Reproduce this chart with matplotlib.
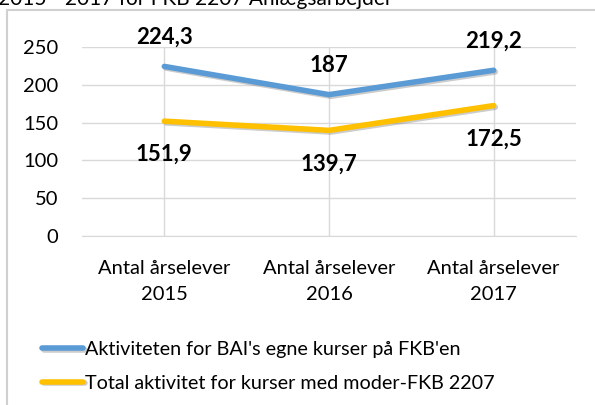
import matplotlib.pyplot as plt
import matplotlib.patheffects as pe
from matplotlib.patches import Rectangle

plt.rcParams['font.family'] = ['Lato', 'DejaVu Sans']

categories = ["Antal årselever\n2015", "Antal årselever\n2016", "Antal årselever\n2017"]
bai_values = [224.3, 187, 219.2]
total_values = [151.9, 139.7, 172.5]
bai_labels = ["224,3", "187", "219,2"]
total_labels = ["151,9", "139,7", "172,5"]
series_names = ["Aktiviteten for BAI's egne kurser på FKB'en",
                "Total aktivitet for kurser med moder-FKB 2207"]
title = "2015 - 2017 for FKB 2207 Anlægsarbejder"

W, H = 595, 405
fig = plt.figure(figsize=(W / 100, H / 100), dpi=100)
fig.patch.set_facecolor("white")

# outer chart border (cut by the figure edge like the screenshot)
fig.add_artist(Rectangle((7 / W, -0.1), 1.1, (H - 10) / H + 0.1, transform=fig.transFigure,
                         fill=False, ec="#d0d0d0", lw=1.5))
fig.text(-2 / W, 1 + 1 / H, title, fontsize=15, va="center", ha="left", color="black")

ax = fig.add_axes([82 / W, 1 - 236 / H, (576 - 82) / W, (236 - 47) / H])
x = range(len(categories))
shadow = [pe.SimpleLineShadow(offset=(1.2, -1.2), shadow_color="0.5", alpha=0.4), pe.Normal()]
ax.plot(x, bai_values, color="#5B9BD5", lw=4, solid_capstyle="round", path_effects=shadow, zorder=3,
        label=series_names[0])
ax.plot(x, total_values, color="#FFC000", lw=4, solid_capstyle="round", path_effects=shadow, zorder=3,
        label=series_names[1])

for i in x:
    ax.annotate(bai_labels[i], (i, bai_values[i]), xytext=(0, 21), textcoords="offset points",
                ha="center", va="center", fontsize=16, fontweight="bold")
    ax.annotate(total_labels[i], (i, total_values[i]), xytext=(0, -24), textcoords="offset points",
                ha="center", va="center", fontsize=16, fontweight="bold")

ax.set_xlim(-0.5, 2.5)
ax.set_ylim(0, 250)
ax.set_yticks([0, 50, 100, 150, 200, 250])
ax.set_xticks(list(x))
ax.set_xticklabels(categories, fontsize=14.5, linespacing=1.7)
ax.tick_params(axis="y", labelsize=14.5, length=0, pad=17)
ax.tick_params(axis="x", length=0, pad=17)
ax.grid(True, color="#d9d9d9", lw=1)
ax.set_axisbelow(True)
for s in ["top", "right", "left"]:
    ax.spines[s].set_visible(False)
ax.spines["bottom"].set_color("#d9d9d9")

fig.legend(loc="upper left", bbox_to_anchor=(34 / W, 1 - 333 / H), frameon=False, fontsize=14.2,
           handlelength=2.1, handletextpad=0.1, labelspacing=0.85, borderaxespad=0)

fig.savefig("out.png", dpi=100)
